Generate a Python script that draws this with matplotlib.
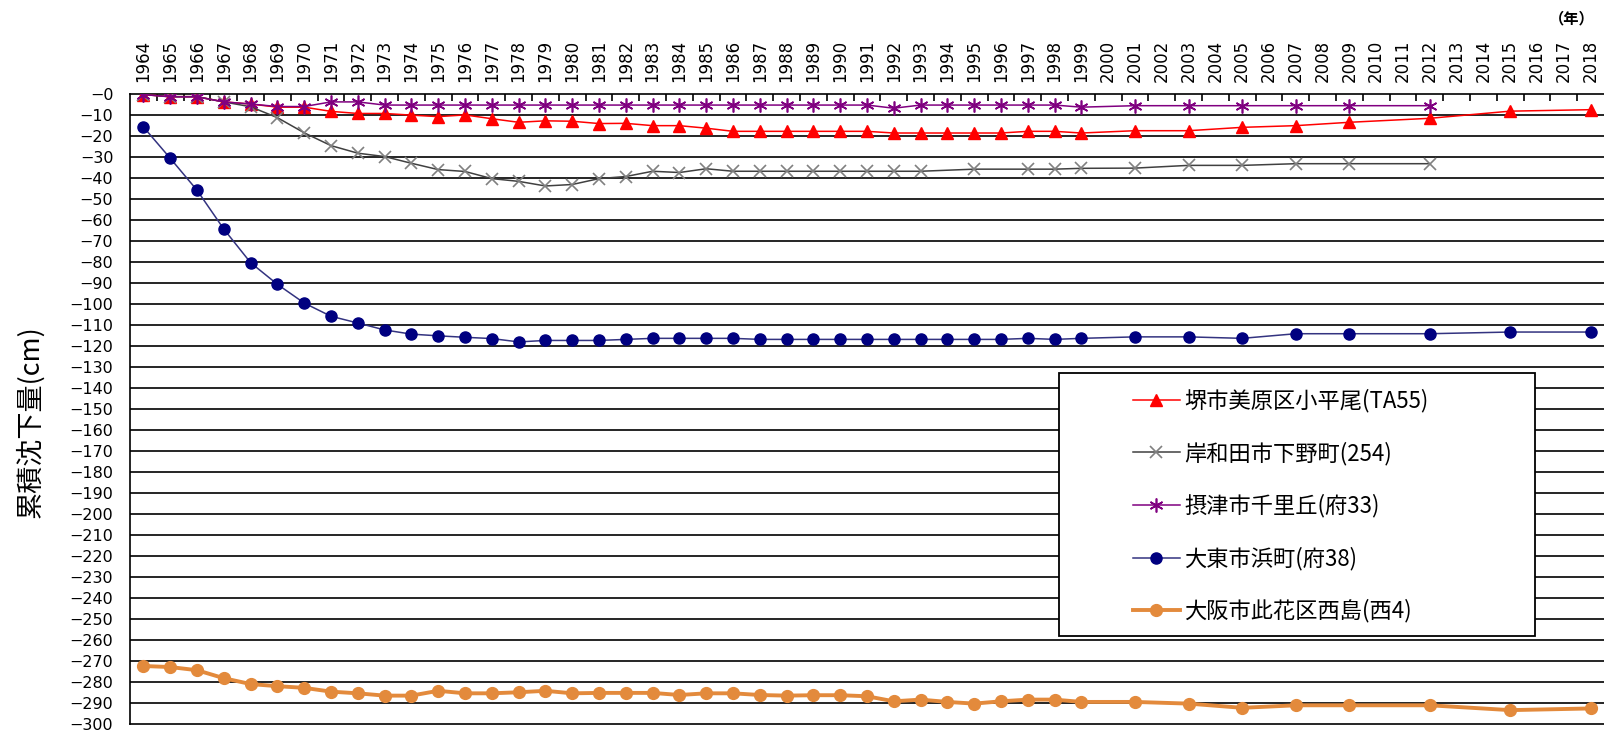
import matplotlib
matplotlib.use("Agg")
import matplotlib.pyplot as plt
from matplotlib.patches import Rectangle
from matplotlib.ticker import FixedLocator, FuncFormatter

plt.rcParams['font.family'] = ['Noto Sans CJK JP', 'DejaVu Sans']

# ---------------- data ----------------
categories = list(range(1964, 2019))

years_full = list(range(1964, 2000)) + [2001, 2003, 2005, 2007, 2009, 2012, 2015, 2018]
years_to2012 = list(range(1964, 2000)) + [2001, 2003, 2005, 2007, 2009, 2012]
years_gray = list(range(1964, 1994)) + [1995, 1997, 1998, 1999, 2001, 2003, 2005, 2007, 2009, 2012]

sakai = [-0.5, -1.5, -1.5, -4, -5, -6.5, -6.5, -8.5, -9.5, -9.5, -10.3, -11, -10.2, -12,
         -13.7, -13, -13.2, -14.3, -14.2, -15.3, -15.3, -16.5, -18, -18, -18, -18, -18, -18,
         -18.8, -18.8, -18.8, -18.8, -18.8, -18, -18, -18.8,
         -17.7, -17.7, -16.1, -15.3, -13.7, -11.8, -8.4, -7.7]

kishiwada = [-0.5, -1.5, -1.5, -4, -6.3, -11.5, -18.7, -24.8, -28.4, -30, -33.2, -36.2,
             -37.1, -40.5, -41.8, -44, -43.3, -40.5, -39.5, -37, -37.6, -35.8,
             -37, -37, -37, -37, -37, -37, -37, -37,
             -36, -36, -36, -35.6, -35.5, -34.2, -34.2, -33.4, -33.4, -33.4]

settsu = [-0.5, -1.6, -1.6, -4, -5, -6.2, -6.2, -4, -4,
          -5.5, -5.5, -5.5, -5.5, -5.5, -5.5, -5.5, -5.5, -5.5, -5.5,
          -5.5, -5.5, -5.5, -5.5, -5.5, -5.5, -5.5, -5.5, -5.5,
          -7, -5.5, -5.5, -5.5, -5.5, -5.5, -5.5, -6.5,
          -5.8, -5.8, -5.8, -5.8, -5.8, -5.8]

daito = [-15.9, -30.8, -46, -64.5, -80.5, -90.8, -99.7, -106, -109.2, -112.5, -114.5,
         -115.3, -116, -116.6, -118.2, -117.5, -117.5, -117.5, -117, -116.5, -116.5,
         -116.5, -116.5, -117, -117, -117, -117, -117, -117, -117, -117, -117, -117,
         -116.5, -117, -116.5,
         -115.8, -115.8, -116.5, -114.3, -114.3, -114.3, -113.5, -113.5]

osaka = [-272.4, -272.9, -274.4, -278.2, -281, -282, -282.8, -284.6, -285.4, -286.5,
         -286.5, -284.2, -285.4, -285.4, -284.9, -284.2, -285.4, -285.2, -285.2, -285.2,
         -286.2, -285.4, -285.4, -286.2, -286.5, -286.3, -286.3, -286.8, -289.2, -288.4,
         -289.5, -290.3, -289.2, -288.4, -288.4, -289.5,
         -289.5, -290.3, -292.3, -291.1, -291.1, -291.1, -293.4, -292.6]

labels = ['堺市美原区小平尾(TA55)', '岸和田市下野町(254)', '摂津市千里丘(府33)',
          '大東市浜町(府38)', '大阪市此花区西島(西4)']
y_ticks = list(range(0, -301, -10))
y_label = '累積沈下量(cm)'
x_unit = '（年）'

# ---------------- figure ----------------
W, H = 1604, 733
fig = plt.figure(figsize=(W / 100, H / 100), dpi=100)
ax = fig.add_axes([130 / W, 1 - 724 / H, 1 - 130 / W, (724 - 93.5) / H])

ax.set_xlim(categories[0] - 0.5, categories[-1] + 0.5)
ax.set_ylim(-300, 0)

# horizontal gridlines
for v in y_ticks[1:-1]:
    ax.axhline(v, color='black', lw=1.2, zorder=1)

ax.plot(years_full, sakai, color='#FF0000', lw=1.1, marker='^', ms=8,
        mfc='#FF0000', mec='#FF0000', label=labels[0], zorder=3)
ax.plot(years_gray, kishiwada, color='#404040', lw=1.1, marker='x', ms=9, mew=1.2,
        mec='#808080', label=labels[1], zorder=3)
ax.plot(years_to2012, settsu, color='#800080', lw=1.1, marker=(6, 2, 0), ms=10, mew=1.2,
        mec='#800080', label=labels[2], zorder=4)
ax.plot(years_full, daito, color='#333380', lw=1.1, marker='o', ms=8,
        mfc='#000080', mec='#000080', label=labels[3], zorder=3)
ax.plot(years_full, osaka, color='#E38A3C', lw=2.8, marker='o', ms=8.5,
        mfc='#E38A3C', mec='#E38A3C', label=labels[4], zorder=3)

# axes styling
ax.spines['right'].set_visible(False)
for s in ['left', 'top', 'bottom']:
    ax.spines[s].set_color('black')
    ax.spines[s].set_linewidth(1.2)

ax.xaxis.tick_top()
ax.xaxis.set_major_locator(FixedLocator(categories))
ax.set_xticklabels([str(c) for c in categories], rotation=90, fontsize=12,
                   family=['DejaVu Sans'])
ax.xaxis.set_minor_locator(FixedLocator([c + 0.5 for c in categories[:-1]]))
ax.tick_params(axis='x', which='major', length=0, pad=8)
ax.tick_params(axis='x', which='minor', top=True, bottom=False, direction='in',
               length=5, width=1.2, color='black')

ax.yaxis.set_major_locator(FixedLocator(y_ticks))
ax.yaxis.set_major_formatter(FuncFormatter(lambda v, p: '\u2212' + str(int(abs(v)))))
ax.tick_params(axis='y', length=0, pad=12, labelsize=11.5)
for t in ax.get_yticklabels():
    t.set_family(['DejaVu Sans'])

fig.text(30 / W, 1 - 422 / H, y_label, rotation=90, ha='center', va='center',
         fontsize=19.5)
fig.text(1595 / W, 1 - 18 / H, x_unit, ha='right', va='center', fontsize=11,
         fontweight='bold')

# legend frame & legend
fig.patches.append(Rectangle((1059 / W, 1 - 636 / H), 476 / W, 263 / H,
                             transform=fig.transFigure, facecolor='white',
                             edgecolor='black', lw=1.3, zorder=5))
leg = fig.legend(loc='upper left', bbox_to_anchor=(1133 / W, 1 - 389 / H),
                 frameon=False, fontsize=16, handlelength=2.1, handletextpad=0.2,
                 labelspacing=1.3, borderpad=0, borderaxespad=0)
leg.set_zorder(6)

fig.savefig('out.png', dpi=100, facecolor='white')
